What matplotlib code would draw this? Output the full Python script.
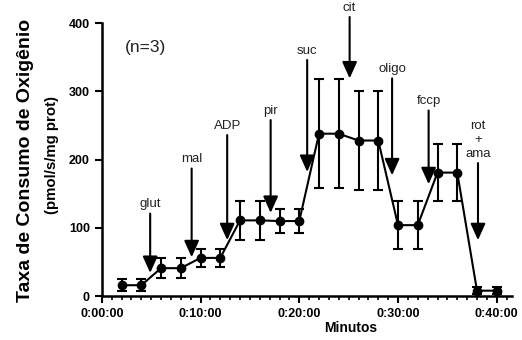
import matplotlib.pyplot as plt
from matplotlib.ticker import MultipleLocator, FuncFormatter

plt.rcParams['font.family'] = ['Liberation Sans', 'DejaVu Sans']

# data (minutes, pmol/s/mg prot)
minutes = [2, 4, 6, 8, 10, 12, 14, 16, 18, 20, 22, 24, 26, 28, 30, 32, 34, 36, 38, 40]
rate = [16, 16, 41, 41, 56, 56, 111, 111, 110, 110, 238, 238, 228, 228, 104, 104, 181, 181, 8, 8]
err = [9, 9, 15, 15, 13, 13, 29, 29, 18, 18, 80, 80, 72, 72, 35, 35, 42, 42, 5, 5]

# additions: label, time of addition, arrow tip, arrow tail
add_labels = ['glut', 'mal', 'ADP', 'pir', 'suc', 'cit', 'oligo', 'fccp', 'rot\n+\nama']
add_time = [4.9, 9.1, 12.7, 17.1, 20.8, 25.1, 29.4, 33.1, 38.1]
add_tip = [34, 57, 82, 122, 182, 319, 177, 164, 82]
add_tail = [121, 187, 236, 258, 346, 409, 319, 272, 195]

fig = plt.figure(figsize=(5.22, 3.40), dpi=100)
ax = fig.add_axes([0.195, 0.129, 0.785, 0.803])

ax.errorbar(minutes, rate, yerr=err, color='black', lw=1.5, marker='o', ms=6,
            capsize=3.5, capthick=1.5, elinewidth=1.5, clip_on=False, zorder=3)

for lab, t, tip, tail in zip(add_labels, add_time, add_tip, add_tail):
    ax.annotate('', xy=(t, tip), xytext=(t, tail),
                arrowprops=dict(arrowstyle='-|>,head_length=1.0,head_width=0.45',
                                color='black', lw=1.5, mutation_scale=10,
                                shrinkA=0, shrinkB=0))
    ax.text(t, tail + 5, lab, ha='center', va='bottom', fontsize=9.5,
            linespacing=1.2, color='#222222')

ax.text(0.056, 0.91, '(n=3)', transform=ax.transAxes, fontsize=12.5,
        va='center', color='#222222')

ax.set_xlim(0, 41.5)
ax.set_ylim(0, 400)
ax.xaxis.set_major_locator(MultipleLocator(10))
ax.xaxis.set_minor_locator(MultipleLocator(1))
ax.xaxis.set_major_formatter(FuncFormatter(lambda v, p: '0:%02d:00' % int(v)))
ax.yaxis.set_major_locator(MultipleLocator(100))

for s in ['top', 'right']:
    ax.spines[s].set_visible(False)
for s in ['left', 'bottom']:
    ax.spines[s].set_linewidth(1.8)

ax.tick_params(axis='both', which='major', width=1.5, length=5, labelsize=9)
ax.tick_params(axis='x', which='minor', width=1.2, length=3)
for lbl in ax.get_xticklabels() + ax.get_yticklabels():
    lbl.set_fontweight('bold')

fig.text(351 / 522, 1 - 328 / 340, 'Minutos', fontsize=10, fontweight='bold',
         ha='center', va='center')
fig.text(26 / 522, 1 - 160 / 340, 'Taxa de Consumo de Oxigênio', fontsize=14,
         fontweight='bold', rotation=90, ha='center', va='center')
fig.text(52 / 522, 1 - 155 / 340, '(pmol/s/mg prot)', fontsize=10.8,
         fontweight='bold', rotation=90, ha='center', va='center')

fig.savefig('out.png', dpi=100)
